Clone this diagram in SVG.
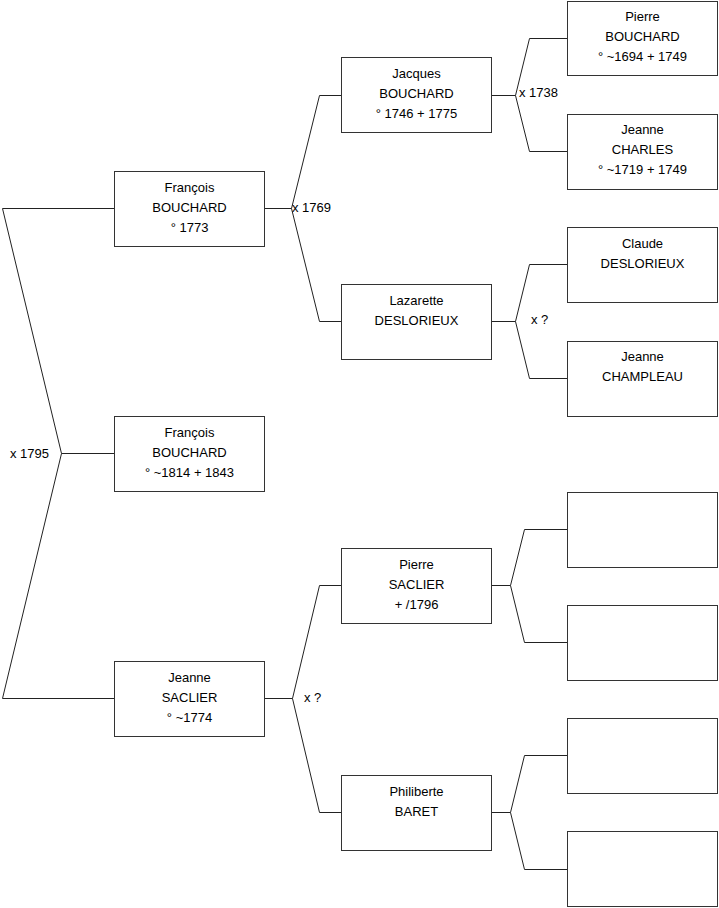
<svg xmlns="http://www.w3.org/2000/svg" width="719" height="908" viewBox="0 0 719 908">
<style>
.box{fill:#fff;stroke:#333;stroke-width:1}
.ln{fill:none;stroke:#222;stroke-width:1}
text{font-family:"Liberation Sans",Arial,sans-serif;font-size:13px;fill:#000}
.c{text-anchor:middle}
</style>
<rect width="719" height="908" fill="#fff"/>
<g id="connectors">
<polyline class="ln" points="114,208.5 2.5,208.5 61.5,453.5 2.5,698.5 114,698.5"/>
<polyline class="ln" points="61.5,453.5 114,453.5"/>
<polyline class="ln" points="265,208.5 291.5,208.5"/>
<polyline class="ln" points="341,95.5 319.5,95.5 291.5,208.5 319.5,321.5 341,321.5"/>
<polyline class="ln" points="265,698.5 292.5,698.5"/>
<polyline class="ln" points="341,585.5 319.5,585.5 292.5,698.5 319.5,812.5 341,812.5"/>
<polyline class="ln" points="492,95.5 515.5,95.5"/>
<polyline class="ln" points="567,38.5 529.5,38.5 515.5,95.5 529.5,151.5 567,151.5"/>
<polyline class="ln" points="492,321.5 515.5,321.5"/>
<polyline class="ln" points="567,264.5 529.5,264.5 515.5,321.5 529.5,378.5 567,378.5"/>
<polyline class="ln" points="492,585.5 510.5,585.5"/>
<polyline class="ln" points="567,529.5 524.5,529.5 510.5,585.5 524.5,642.5 567,642.5"/>
<polyline class="ln" points="492,812.5 510.5,812.5"/>
<polyline class="ln" points="567,755.5 524.5,755.5 510.5,812.5 524.5,869.5 567,869.5"/>
<text x="10" y="458">x 1795</text>
<text x="292" y="212">x 1769</text>
<text x="304" y="702">x ?</text>
<text x="519" y="97">x 1738</text>
<text x="531" y="324">x ?</text>
</g>
<g id="root">
<rect class="box" x="114.5" y="416.5" width="150" height="75"/>
<text class="c" x="189.5" y="437">François</text>
<text class="c" x="189.5" y="457">BOUCHARD</text>
<text class="c" x="189.5" y="477">° ~1814 + 1843</text>
</g>
<g id="father">
<rect class="box" x="114.5" y="171.5" width="150" height="75"/>
<text class="c" x="189.5" y="192">François</text>
<text class="c" x="189.5" y="212">BOUCHARD</text>
<text class="c" x="189.5" y="232">° 1773</text>
</g>
<g id="mother">
<rect class="box" x="114.5" y="661.5" width="150" height="75"/>
<text class="c" x="189.5" y="682">Jeanne</text>
<text class="c" x="189.5" y="702">SACLIER</text>
<text class="c" x="189.5" y="722">° ~1774</text>
</g>
<g id="ff">
<rect class="box" x="341.5" y="57.5" width="150" height="75"/>
<text class="c" x="416.5" y="78">Jacques</text>
<text class="c" x="416.5" y="98">BOUCHARD</text>
<text class="c" x="416.5" y="118">° 1746 + 1775</text>
</g>
<g id="fm">
<rect class="box" x="341.5" y="284.5" width="150" height="75"/>
<text class="c" x="416.5" y="305">Lazarette</text>
<text class="c" x="416.5" y="325">DESLORIEUX</text>
</g>
<g id="mf">
<rect class="box" x="341.5" y="548.5" width="150" height="75"/>
<text class="c" x="416.5" y="569">Pierre</text>
<text class="c" x="416.5" y="589">SACLIER</text>
<text class="c" x="416.5" y="609"> + /1796</text>
</g>
<g id="mm">
<rect class="box" x="341.5" y="775.5" width="150" height="75"/>
<text class="c" x="416.5" y="796">Philiberte</text>
<text class="c" x="416.5" y="816">BARET</text>
</g>
<g id="fff">
<rect class="box" x="567.5" y="1.5" width="150" height="74"/>
<text class="c" x="642.5" y="21">Pierre</text>
<text class="c" x="642.5" y="41">BOUCHARD</text>
<text class="c" x="642.5" y="61">° ~1694 + 1749</text>
</g>
<g id="ffm">
<rect class="box" x="567.5" y="114.5" width="150" height="75"/>
<text class="c" x="642.5" y="134">Jeanne</text>
<text class="c" x="642.5" y="154">CHARLES</text>
<text class="c" x="642.5" y="174">° ~1719 + 1749</text>
</g>
<g id="fmf">
<rect class="box" x="567.5" y="227.5" width="150" height="75"/>
<text class="c" x="642.5" y="248">Claude</text>
<text class="c" x="642.5" y="268">DESLORIEUX</text>
</g>
<g id="fmm">
<rect class="box" x="567.5" y="341.5" width="150" height="75"/>
<text class="c" x="642.5" y="361">Jeanne</text>
<text class="c" x="642.5" y="381">CHAMPLEAU</text>
</g>
<g id="mff"><rect class="box" x="567.5" y="492.5" width="150" height="75"/></g>
<g id="mfm"><rect class="box" x="567.5" y="605.5" width="150" height="75"/></g>
<g id="mmf"><rect class="box" x="567.5" y="718.5" width="150" height="75"/></g>
<g id="mmm"><rect class="box" x="567.5" y="831.5" width="150" height="75"/></g>
</svg>
